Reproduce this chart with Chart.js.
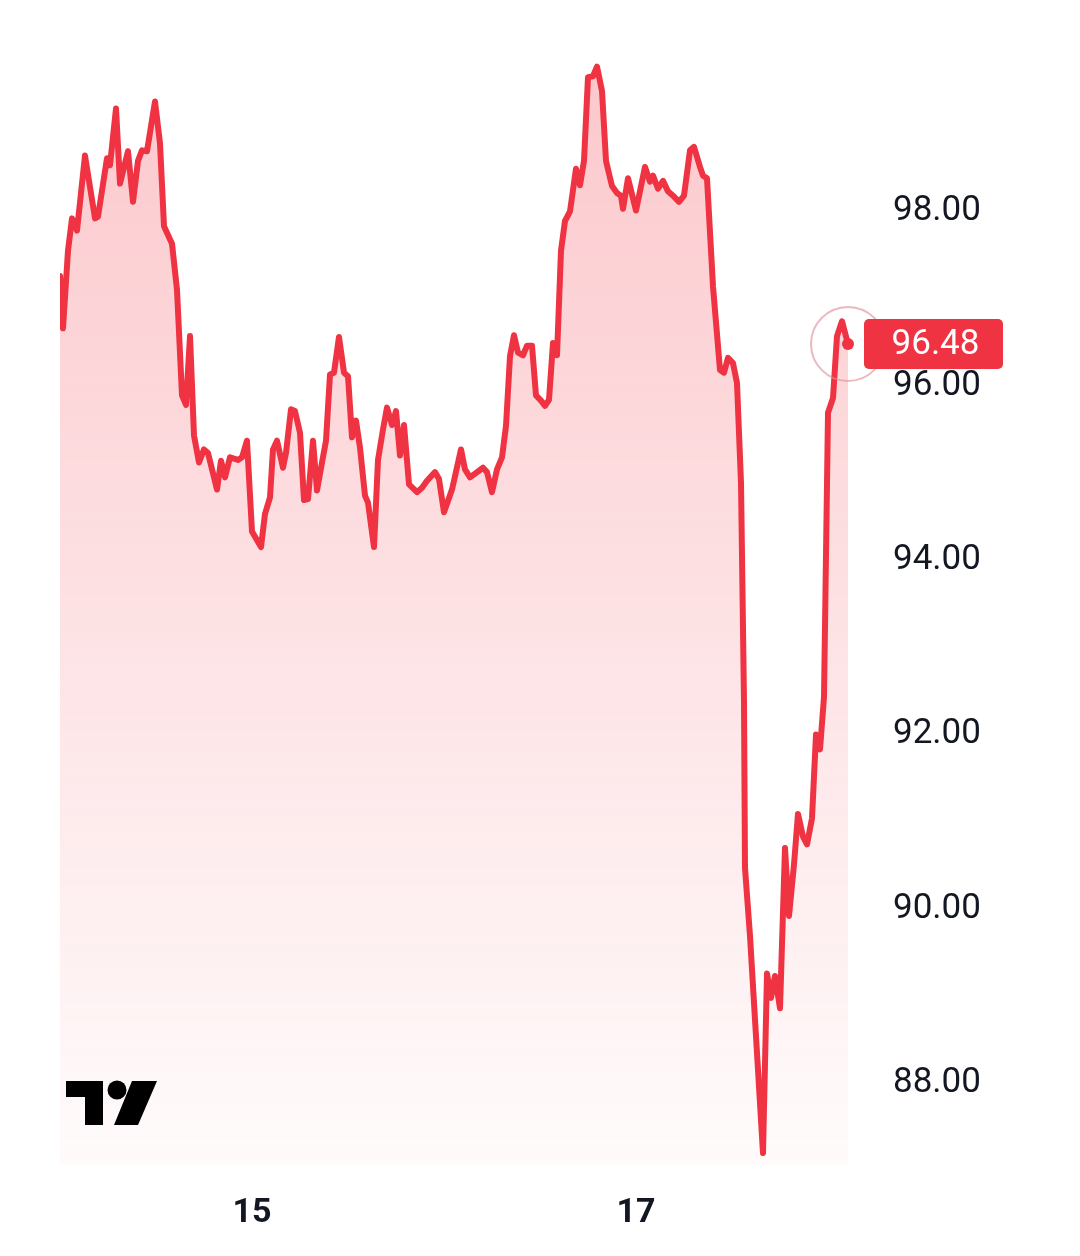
<!DOCTYPE html>
<html>
<head>
<meta charset="utf-8">
<script src="https://cdn.jsdelivr.net/npm/chart.js@4.4.1/dist/chart.umd.min.js"></script>
<style>
  html, body { margin: 0; padding: 0; background: #ffffff; }
  #wrap { width: 1080px; height: 1256px; position: relative; }
</style>
</head>
<body>
<div id="wrap"><canvas id="c" width="1080" height="1256"></canvas></div>
<script>
// Hours since the 14th 00:00
const times = [
  0, 0.375, 1.0, 1.5, 2.125, 3.125, 4.375, 4.75, 5.875, 6.25,
  7.0, 7.5, 8.5, 9.125, 9.75, 10.25, 10.875, 11.875, 12.5, 13.0,
  14.0, 14.625, 15.25, 15.75, 16.25, 16.75, 17.375, 18.0, 18.5, 19.625,
  20.125, 20.625, 21.25, 22.25, 22.75, 23.375, 24.0, 25.125, 25.625, 26.25,
  26.625, 27.125, 27.875, 28.25, 28.875, 29.375, 30.0, 30.5, 31.0, 31.625,
  32.125, 32.75, 33.25, 33.75, 34.25, 34.875, 35.5, 36.0, 36.5, 37.0,
  37.5, 38.125, 38.5, 39.25, 39.75, 40.375, 40.875, 41.5, 42.0, 42.5,
  43.0, 43.625, 44.625, 45.25, 45.875, 46.875, 47.375, 48.0, 49.0, 50.125,
  50.625, 51.25, 52.875, 53.375, 54.0, 54.625, 55.25, 55.75, 56.25, 56.75,
  57.25, 57.875, 58.375, 59.0, 59.5, 60.125, 60.625, 61.125, 61.625, 62.125,
  62.625, 63.125, 63.75, 64.5, 65.0, 65.5, 66.0, 66.625, 67.125, 67.75,
  68.25, 69.0, 69.625, 70.125, 70.375, 71.0, 72.0, 73.125, 73.75, 74.125,
  74.75, 75.375, 76.0, 76.625, 77.375, 78.0, 78.75, 79.25, 80.0, 80.375,
  80.875, 81.625, 82.5, 83.0, 83.5, 84.125, 84.625, 85.125, 85.5, 85.625,
  86.25, 87.875, 88.375, 88.875, 89.375, 90.0, 90.625, 91.125, 91.75, 92.25,
  92.875, 93.375, 94.0, 94.5, 95.0, 95.5, 96.0, 96.625, 97.125, 97.75,
  98.5
];
const prices = [
  97.26, 96.66, 97.55, 97.92, 97.78, 98.64, 97.92, 97.94, 98.61, 98.53,
  99.18, 98.32, 98.69, 98.11, 98.58, 98.70, 98.69, 99.26, 98.78, 97.83,
  97.63, 97.10, 95.89, 95.78, 96.57, 95.43, 95.12, 95.27, 95.23, 94.81,
  95.14, 94.95, 95.18, 95.15, 95.18, 95.37, 94.33, 94.15, 94.53, 94.72,
  95.27, 95.37, 95.06, 95.23, 95.73, 95.71, 95.46, 94.69, 94.70, 95.37,
  94.80, 95.12, 95.37, 96.13, 96.15, 96.56, 96.15, 96.11, 95.41, 95.60,
  95.29, 94.74, 94.66, 94.15, 95.15, 95.50, 95.75, 95.55, 95.71, 95.20,
  95.55, 94.87, 94.78, 94.83, 94.91, 95.01, 94.93, 94.55, 94.81, 95.27,
  95.04, 94.95, 95.06, 95.01, 94.78, 95.04, 95.18, 95.54, 96.34, 96.58,
  96.38, 96.35, 96.46, 96.46, 95.89, 95.83, 95.77, 95.84, 96.49, 96.35,
  97.55, 97.89, 98.00, 98.49, 98.30, 98.58, 99.54, 99.55, 99.66, 99.38,
  98.58, 98.29, 98.21, 98.18, 98.03, 98.38, 98.01, 98.51, 98.34, 98.41,
  98.26, 98.35, 98.23, 98.18, 98.11, 98.18, 98.70, 98.74, 98.51, 98.41,
  98.38, 97.14, 96.18, 96.15, 96.32, 96.26, 96.03, 94.89, 92.38, 90.47,
  89.69, 87.20, 89.26, 88.98, 89.23, 88.86, 90.70, 89.92, 90.51, 91.09,
  90.83, 90.74, 91.04, 92.00, 91.83, 92.43, 95.69, 95.86, 96.57, 96.74,
  96.48
];
const dayTickHours = [24, 72];
const dayTickLabels = ['15', '17'];
const priceTicks = [88, 90, 92, 94, 96, 98];

const RED = '#ef3342';
const lastIdx = prices.length - 1;

const overlayPlugin = {
  id: 'overlay',
  afterDatasetsDraw(chart) {
    const ctx = chart.ctx;
    const xs = chart.scales.x, ys = chart.scales.y;
    const px = xs.getPixelForValue(times[lastIdx]);
    const py = ys.getPixelForValue(prices[lastIdx]);
    // halo
    ctx.save();
    ctx.beginPath();
    ctx.arc(px, py, 37, 0, Math.PI * 2);
    ctx.strokeStyle = 'rgba(220,140,150,0.6)';
    ctx.lineWidth = 2;
    ctx.stroke();
    ctx.restore();
    // last price box
    ctx.save();
    const bx = 864, bw = 139, bh = 50;
    const by = py - bh / 2;
    ctx.fillStyle = RED;
    ctx.beginPath();
    if (ctx.roundRect) ctx.roundRect(bx, by, bw, bh, 5); else ctx.rect(bx, by, bw, bh);
    ctx.fill();
    ctx.fillStyle = '#ffffff';
    ctx.font = '35px Roboto';
    ctx.textAlign = 'center';
    ctx.textBaseline = 'middle';
    ctx.fillText(prices[lastIdx].toFixed(2), bx + bw / 2 + 2, py + 1);
    ctx.restore();
    // TradingView logo
    ctx.save();
    ctx.fillStyle = '#000000';
    ctx.fillRect(66, 1081, 37, 16);
    ctx.fillRect(85, 1081, 18, 44);
    ctx.beginPath();
    ctx.arc(117, 1090, 9.5, 0, Math.PI * 2);
    ctx.fill();
    ctx.beginPath();
    ctx.moveTo(132, 1081);
    ctx.lineTo(157, 1081);
    ctx.lineTo(138, 1125);
    ctx.lineTo(114, 1125);
    ctx.closePath();
    ctx.fill();
    ctx.restore();
  }
};

new Chart(document.getElementById('c'), {
  type: 'line',
  data: {
    datasets: [{
      data: times.map((t, i) => ({ x: t, y: prices[i] })),
      borderColor: RED,
      borderWidth: 6,
      borderJoinStyle: 'round',
      borderCapStyle: 'round',
      tension: 0,
      fill: 'start',
      backgroundColor(context) {
        const { chart } = context;
        const area = chart.chartArea;
        if (!area) return 'rgba(242,54,69,0.2)';
        const g = chart.ctx.createLinearGradient(0, area.top, 0, area.bottom);
        g.addColorStop(0, 'rgba(242,54,69,0.28)');
        g.addColorStop(1, 'rgba(242,54,69,0.02)');
        return g;
      },
      pointRadius: (c) => c.dataIndex === lastIdx ? 6 : 0,
      pointBackgroundColor: RED,
      pointBorderWidth: 0,
      pointHoverRadius: 0
    }]
  },
  options: {
    responsive: false,
    animation: false,
    devicePixelRatio: 1,
    layout: { padding: { left: 60, top: 40, right: 0, bottom: 0 } },
    plugins: { legend: { display: false }, tooltip: { enabled: false } },
    scales: {
      x: {
        type: 'linear',
        min: 0,
        max: 101.25,
        grid: { display: false, drawTicks: false },
        border: { display: false },
        afterBuildTicks(scale) { scale.ticks = dayTickHours.map(v => ({ value: v })); },
        afterFit(scale) { scale.height = 91; },
        ticks: {
          autoSkip: false,
          maxRotation: 0,
          padding: 28,
          color: '#131722',
          font: { family: 'Roboto', size: 34, weight: 'bold' },
          callback: (v) => { const k = dayTickHours.indexOf(v); return k >= 0 ? dayTickLabels[k] : ''; }
        }
      },
      y: {
        position: 'right',
        min: 87.063,
        max: 99.92,
        grid: { display: false, drawTicks: false },
        border: { display: false },
        afterBuildTicks(scale) { scale.ticks = priceTicks.map(v => ({ value: v })); },
        afterFit(scale) { scale.width = 210; },
        ticks: {
          padding: 23,
          color: '#131722',
          font: { family: 'Roboto', size: 35 },
          callback: (v) => Number(v).toFixed(2)
        }
      }
    }
  },
  plugins: [overlayPlugin]
});
</script>
</body>
</html>
